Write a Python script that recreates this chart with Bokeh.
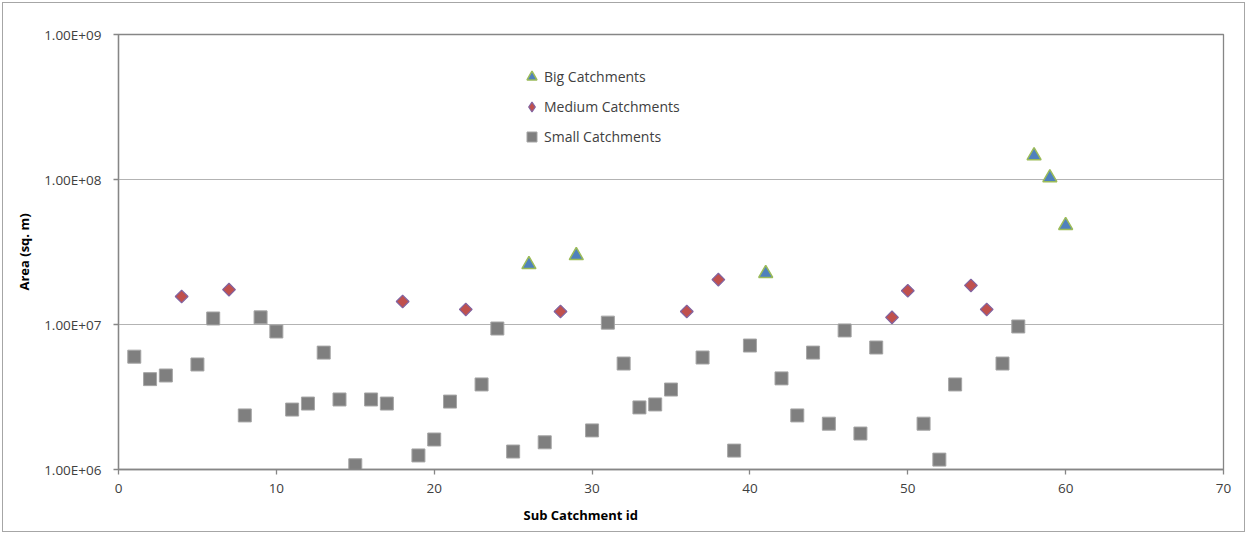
import math
from bokeh.plotting import figure
from bokeh.models import (Range1d, FixedTicker, CustomJSTickFormatter, Legend, LegendItem,
                          Title, ColumnDataSource)
from bokeh.embed import file_html
from bokeh.resources import INLINE

# ---- data ----
small_id = [1, 2, 3, 5, 6, 8, 9, 10, 11, 12, 13, 14, 15, 16, 17, 19, 20, 21, 23, 24, 25, 27,
            30, 31, 32, 33, 34, 35, 37, 39, 40, 42, 43, 44, 45, 46, 47, 48, 51, 52, 53, 56, 57]
small_area = [6.0e6, 4.2e6, 4.45e6, 5.3e6, 1.1e7, 2.36e6, 1.12e7, 8.95e6, 2.59e6, 2.85e6, 6.4e6,
              3.04e6, 1.07e6, 3.04e6, 2.85e6, 1.25e6, 1.61e6, 2.94e6, 3.86e6, 9.38e6, 1.33e6,
              1.54e6, 1.86e6, 1.03e7, 5.38e6, 2.68e6, 2.81e6, 3.56e6, 5.92e6, 1.35e6, 7.16e6,
              4.25e6, 2.36e6, 6.4e6, 2.07e6, 9.1e6, 1.77e6, 6.94e6, 2.07e6, 1.17e6, 3.86e6,
              5.38e6, 9.69e6]
medium_id = [4, 7, 18, 22, 28, 36, 38, 49, 50, 54, 55]
medium_area = [1.56e7, 1.74e7, 1.44e7, 1.27e7, 1.23e7, 1.23e7, 2.04e7, 1.12e7, 1.71e7, 1.86e7, 1.27e7]
big_id = [26, 29, 41, 58, 59, 60]
big_area = [2.59e7, 2.99e7, 2.25e7, 1.46e8, 1.03e8, 4.82e7]

x_ticks = [0, 10, 20, 30, 40, 50, 60, 70]
y_ticks = [1e6, 1e7, 1e8, 1e9]

FONT = "Open Sans"

p = figure(width=1243, height=530, y_axis_type="log", output_backend="svg",
           toolbar_location=None,
           x_range=Range1d(0, 70), y_range=Range1d(1e6, 1e9),
           min_border_left=115, min_border_right=23, min_border_top=31, min_border_bottom=64,
           background_fill_color="white", border_fill_color="white")
p.styles = {"border": "1px solid #a6a6a6", "margin-left": "2px", "margin-top": "2px"}

p.outline_line_color = "#868686"
p.outline_line_width = 1.3

p.xgrid.visible = False
p.ygrid.grid_line_color = "#b3b3b3"
p.ygrid.grid_line_width = 1.2
p.ygrid.ticker = FixedTicker(ticks=y_ticks)

for ax in (p.xaxis[0], p.yaxis[0]):
    ax.axis_line_color = "#868686"
    ax.axis_line_width = 1.3
    ax.major_tick_line_color = "#868686"
    ax.major_tick_line_width = 1.3
    ax.major_tick_out = 5
    ax.major_tick_in = 0
    ax.minor_tick_out = 0
    ax.minor_tick_in = 0
    ax.major_label_text_font = FONT
    ax.major_label_text_font_size = "13.5px"
    ax.major_label_text_color = "#404040"

p.xaxis.major_label_standoff = 9
p.yaxis.major_label_standoff = 12

p.xaxis.ticker = FixedTicker(ticks=x_ticks)
p.yaxis.ticker = FixedTicker(ticks=y_ticks)
p.yaxis.formatter = CustomJSTickFormatter(code="""
    const s = tick.toExponential(2).toUpperCase();
    return s.replace(/E([+-])(\\d)$/, 'E$10$2');
""")

p.yaxis.axis_label = "Area (sq. m)"
p.yaxis.axis_label_text_font = FONT
p.yaxis.axis_label_text_font_size = "13px"
p.yaxis.axis_label_text_font_style = "bold"
p.yaxis.axis_label_text_color = "#000000"
p.yaxis.axis_label_standoff = 8

# x-axis title (placed off-centre as in the original)
xt = Title(text="Sub Catchment id", align="left", offset=405, standoff=16,
           text_font=FONT, text_font_size="13px", text_font_style="bold",
           text_color="#000000")
p.add_layout(xt, "below")

src_s = ColumnDataSource(dict(x=small_id, y=small_area))
src_m = ColumnDataSource(dict(x=medium_id, y=medium_area))
src_b = ColumnDataSource(dict(x=big_id, y=big_area))

# legend swatch for the diamond series (hidden beneath the rotated squares below)
r_m_key = p.scatter("x", "y", source=src_m, marker="diamond", size=8,
                    fill_color="#c0504d", line_color="#8064a2", line_width=1.2)

r_s = p.scatter("x", "y", source=src_s, marker="square", size=13,
                fill_color="#7f7f7f", line_color="#a5a5a5", line_width=1)
r_m = p.scatter("x", "y", source=src_m, marker="square", angle=math.pi / 4, size=9,
                fill_color="#c0504d", line_color="#8064a2", line_width=1.2)
r_b = p.scatter("x", "y", source=src_b, marker="triangle", size=14,
                fill_color="#4f81bd", line_color="#9bbb59", line_width=1.5)

legend = Legend(items=[LegendItem(label="Big Catchments", renderers=[r_b]),
                       LegendItem(label="Medium Catchments", renderers=[r_m_key]),
                       LegendItem(label="Small Catchments", renderers=[r_s])],
                location=(401, 320), orientation="vertical",
                glyph_width=25, glyph_height=25, label_height=20, spacing=5,
                label_standoff=0, padding=0, margin=0,
                border_line_color=None, background_fill_alpha=0,
                label_text_font=FONT, label_text_font_size="14px",
                label_text_color="#404040")
p.add_layout(legend, "center")

open("out.html", "w").write(file_html(p, INLINE))
